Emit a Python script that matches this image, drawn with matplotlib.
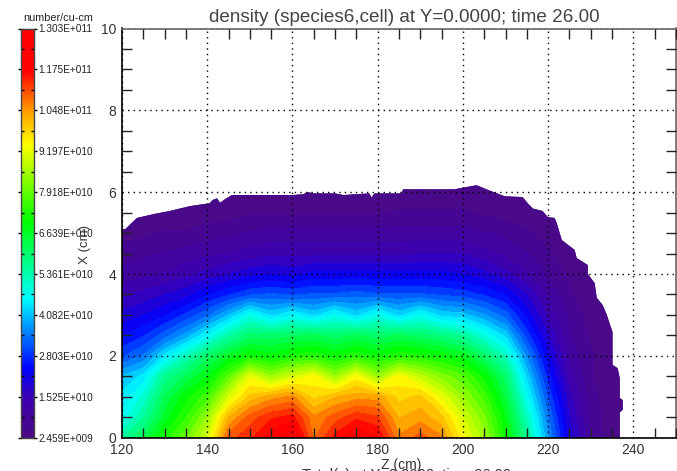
import numpy as np
import matplotlib
matplotlib.use('Agg')
import matplotlib.pyplot as plt
from matplotlib.colors import LinearSegmentedColormap, Normalize
from matplotlib.patches import Polygon
from matplotlib.ticker import MultipleLocator

plt.rcParams['font.family'] = ['Liberation Sans', 'DejaVu Sans']

# density in units of 1e9 number/cu-cm, one row per Z column
z_cols = [120, 125, 130, 135, 140, 145, 150, 155, 160, 165, 170, 175, 180, 185,
          190, 195, 200, 205, 210, 215, 220, 225, 230, 235, 240]
x_rows = [0, 0.5, 1, 1.5, 2, 2.5, 3, 3.5, 4, 4.5, 5, 5.5, 6, 6.5]
density = [
    [55, 47, 44, 40, 30, 24, 19, 14, 10, 7, 4, 3, 3, 3],
    [62, 55, 50, 44, 34, 27, 21, 16, 11, 8, 5, 3, 3, 3],
    [72, 66, 62, 56, 44, 32, 24, 18, 12, 9, 6, 3, 3, 3],
    [80, 74, 70, 62, 52, 38, 28, 20, 14, 10, 6, 3, 3, 3],
    [90, 84, 76, 68, 60, 46, 33, 24, 16, 11, 7, 4, 3, 3],
    [110, 102, 90, 78, 66, 54, 40, 27, 18, 12, 8, 4, 3, 3],
    [114, 110, 100, 92, 71, 60, 48, 30, 20, 13, 9, 5, 3, 3],
    [120, 114, 104, 84, 69, 60, 42, 31, 21, 14, 10, 5, 3, 3],
    [124, 116, 106, 90, 72, 61, 46, 30, 20, 14, 10, 5, 3, 3],
    [108, 106, 98, 94, 73, 62, 42, 31, 22, 14, 10, 5, 3, 3],
    [116, 110, 102, 84, 70, 60, 47, 31, 22, 14, 10, 5, 3, 3],
    [122, 114, 104, 94, 73, 62, 42, 32, 22, 14, 10, 5, 3, 3],
    [118, 112, 104, 84, 70, 60, 48, 31, 22, 14, 10, 5, 3, 3],
    [106, 102, 98, 94, 73, 62, 42, 31, 22, 14, 10, 6, 3, 3],
    [110, 104, 100, 88, 72, 60, 47, 31, 22, 15, 10, 6, 3, 3],
    [106, 100, 92, 82, 70, 58, 42, 30, 22, 15, 10, 6, 3, 3],
    [94, 90, 84, 78, 67, 55, 41, 29, 21, 15, 10, 6, 3, 3],
    [85, 81, 76, 70, 60, 49, 37, 27, 19, 13, 9, 5, 3, 3],
    [70, 68, 64, 60, 52, 42, 32, 24, 16, 11, 8, 4, 3, 3],
    [56, 52, 47, 42, 36, 29, 23, 18, 12, 9, 6, 4, 3, 3],
    [37, 34, 30, 26, 22, 18, 14, 11, 8, 6, 4, 3, 3, 3],
    [20, 18, 16, 13, 11, 9, 8, 6, 5, 4, 3, 3, 3, 3],
    [9, 8, 7, 6, 6, 5, 4, 3, 3, 3, 3, 3, 3, 3],
    [3, 3, 3, 3, 3, 3, 3, 3, 3, 3, 3, 3, 3, 3],
    [3, 3, 3, 3, 3, 3, 3, 3, 3, 3, 3, 3, 3, 3],
]

# jagged outer edge of the populated region
edge_z = [120, 120, 120.8, 122.3, 123.5, 127.7, 131.2, 136, 140.6, 141.3, 142.3, 143, 144.2,
          145.8, 160, 162.5, 163.6, 165, 170, 172, 178, 178.6, 179.2, 185.5, 186, 198,
          203.2, 206, 209.8, 214, 215.2, 216.4, 218.7, 219.9, 221.5, 222, 223.2, 226.2,
          226.7, 229.3, 229.3, 230.9, 231.4, 232.8, 233.7, 235.1, 235.1, 236.3, 236.8,
          236.8, 237.5, 237.5, 236.8, 236.8]
edge_x = [0, 5.1, 5.1, 5.25, 5.37, 5.47, 5.54, 5.66, 5.73, 5.81, 5.85, 5.74, 5.83,
          5.93, 5.93, 5.95, 6.0, 5.97, 5.97, 5.93, 5.97, 5.87, 5.97, 5.97, 6.07, 6.07,
          6.17, 6.05, 5.9, 5.88, 5.73, 5.6, 5.54, 5.39, 5.37, 5.25, 4.83, 4.59,
          4.39, 4.22, 4.0, 3.78, 3.42, 3.24, 3.02, 2.58, 1.78, 1.7, 1.46,
          0.97, 0.92, 0.68, 0.62, 0]

cbar_ticks = [2.459e9, 1.525e10, 2.803e10, 4.082e10, 5.361e10, 6.639e10,
              7.918e10, 9.197e10, 1.048e11, 1.175e11, 1.303e11]
cbar_labels = ['2.459E+009', '1.525E+010', '2.803E+010', '4.082E+010', '5.361E+010',
               '6.639E+010', '7.918E+010', '9.197E+010', '1.048E+011', '1.175E+011',
               '1.303E+011']

color_stops = [(2.459, '#4b0a82'), (15.25, '#3a00b4'), (24, '#0000ff'), (46, '#00ffff'),
               (70, '#00ff00'), (94, '#ffff00'), (105, '#ff9900'), (117, '#ff0000'),
               (130.3, '#ff0000')]
vmin, vmax = 2.459, 130.3
cmap = LinearSegmentedColormap.from_list(
    'idl_rainbow', [((v - vmin) / (vmax - vmin), c) for v, c in color_stops], N=256)
norm = Normalize(vmin, vmax)

W, H = 677, 471
fig = plt.figure(figsize=(W / 100, H / 100), dpi=100)
ax = fig.add_axes([122 / W, 1 - 437.7 / H, 554 / W, 409.2 / H])
cax = fig.add_axes([21 / W, 1 - 437.7 / H, 13 / W, 409.2 / H])

Z, X = np.meshgrid(z_cols, x_rows)
D = np.array(density).T
poly = Polygon(list(zip(edge_z, edge_x)), closed=True, fc='#4b0a82', ec='none', zorder=1)
ax.add_patch(poly)
cs = ax.contourf(Z, X, D, levels=np.linspace(vmin, vmax, 42), cmap=cmap, norm=norm,
                 extend='both', zorder=2)
cs.set_clip_path(poly)

ax.set_xlim(120, 250)
ax.set_ylim(0, 10)
ax.set_xticks([120, 140, 160, 180, 200, 220, 240])
ax.xaxis.set_minor_locator(MultipleLocator(5))
ax.set_yticks([0, 2, 4, 6, 8, 10])
ax.yaxis.set_minor_locator(MultipleLocator(0.5))
ax.grid(True, which='major', color='black', linestyle=(0, (1, 3)), linewidth=1, zorder=3)
ax.set_axisbelow(False)
ax.tick_params(which='major', length=0, labelsize=10, labelcolor='#333333', pad=4)
ax.tick_params(which='minor', length=7, width=1, direction='in', top=True, right=True,
               color='#222222')
for name, spine in ax.spines.items():
    spine.set_linewidth(1.2)
    spine.set_color('black' if name in ('left', 'bottom') else '#666666')

grad = np.linspace(vmin, vmax, 256).reshape(-1, 1)
cax.imshow(grad, origin='lower', aspect='auto', cmap=cmap, norm=norm,
           extent=[0, 1, vmin * 1e9, vmax * 1e9])
cax.set_xticks([])
cax.yaxis.tick_right()
cax.set_yticks(cbar_ticks)
cax.set_yticklabels(cbar_labels)
cax.set_yticks(np.array(cbar_ticks[:-1]) + np.diff(cbar_ticks) / 2, minor=True)
cax.tick_params(which='major', axis='y', length=2, width=1, direction='out', left=True,
                labelsize=7.2, pad=1.2, labelcolor='#222222')
cax.tick_params(which='minor', axis='y', length=2, width=1, direction='in', left=True,
                right=True, labelright=False)
for spine in cax.spines.values():
    spine.set_linewidth(1)
    spine.set_color('#444444')

fig.text(58 / W, 1 - 18 / H, 'number/cu-cm', ha='center', va='center', fontsize=7.8,
         color='#222222')
fig.text(404 / W, 1 - 17 / H, 'density (species6,cell) at Y=0.0000; time 26.00',
         ha='center', va='center', fontsize=13.6, color='#444444')
fig.text(85 / W, 1 - 245 / H, 'X (cm)', rotation=90, ha='center', va='center',
         fontsize=9.5, color='#333333')
fig.text(401 / W, 1 - 465 / H, 'Z (cm)', ha='center', va='center', fontsize=10,
         color='#333333')
fig.text(406 / W, 1 - 468 / H, 'Total(c) at Y=0.0000; time 26.00', ha='center', va='top',
         fontsize=10.5, color='#333333')

fig.savefig('out.png', dpi=100)
